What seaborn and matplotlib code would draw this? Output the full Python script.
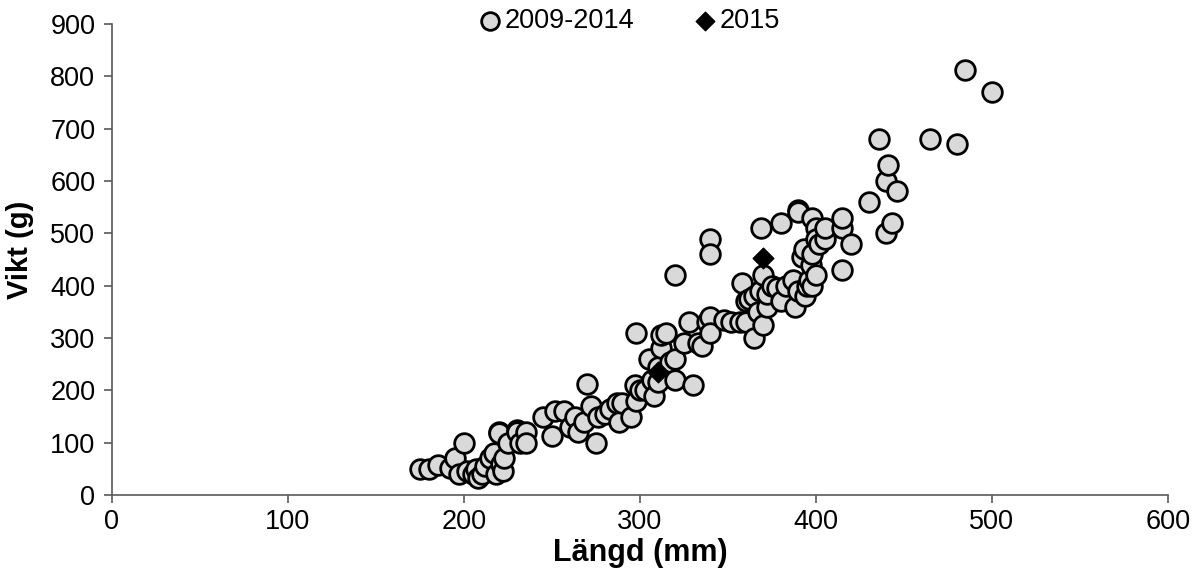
import matplotlib
matplotlib.use("Agg")
import matplotlib.pyplot as plt
import seaborn as sns
import pandas as pd

# Length (mm) and weight (g) of fish caught 2009-2014
length_2009_2014 = [175, 180, 185, 192, 195, 197, 200, 202, 205, 207, 208, 210, 212, 215, 217,
                    218, 220, 220, 221, 222, 223, 225, 230, 230, 232, 235, 235, 245, 250, 252,
                    257, 260, 263, 265, 270, 268, 272, 275, 276, 280, 283, 287, 288, 290, 295,
                    297, 298, 298, 300, 303, 305, 307, 308, 310, 310, 312, 312, 315, 317, 320,
                    320, 320, 325, 328, 330, 333, 335, 338, 340, 340, 340, 340, 348, 352, 357,
                    358, 360, 360, 362, 365, 365, 367, 368, 369, 370, 370, 372, 372, 375, 378,
                    380, 380, 383, 387, 388, 390, 390, 390, 392, 393, 394, 395, 396, 398, 398,
                    397, 398, 400, 400, 400, 402, 405, 405, 415, 415, 415, 420, 430, 436, 440,
                    440, 441, 443, 446, 465, 480, 485, 500]
weight_2009_2014 = [50, 50, 58, 52, 70, 40, 100, 45, 40, 50, 32, 40, 55, 70, 80,
                    40, 120, 118, 60, 45, 70, 100, 125, 120, 100, 120, 100, 150, 113, 160,
                    160, 130, 150, 120, 212, 140, 170, 100, 150, 155, 165, 175, 140, 175, 150,
                    210, 310, 180, 200, 200, 260, 220, 190, 215, 245, 280, 305, 310, 255, 420,
                    260, 220, 290, 330, 210, 290, 285, 330, 490, 460, 340, 310, 335, 330, 330,
                    405, 370, 330, 375, 300, 380, 350, 390, 510, 420, 325, 360, 385, 400, 395,
                    520, 370, 400, 410, 360, 390, 545, 540, 455, 470, 380, 400, 410, 400, 530,
                    440, 460, 510, 490, 420, 480, 490, 510, 510, 530, 430, 480, 560, 680, 500,
                    600, 630, 520, 580, 680, 670, 813, 770]

# Fish caught 2015
length_2015 = [310, 370]
weight_2015 = [235, 452]

df = pd.DataFrame({
    "Längd": length_2009_2014 + length_2015,
    "Vikt": weight_2009_2014 + weight_2015,
    "År": ["2009-2014"] * len(length_2009_2014) + ["2015"] * len(length_2015),
})

sns.set_style("white")
plt.rcParams["font.family"] = ["Liberation Sans", "DejaVu Sans"]
plt.rcParams["text.color"] = "black"
plt.rcParams["axes.labelcolor"] = "black"
plt.rcParams["xtick.color"] = "black"
plt.rcParams["ytick.color"] = "black"

fig = plt.figure(figsize=(12.04, 5.74), dpi=100)
ax = fig.add_axes([0.093, 0.1376, 0.877, 0.8206])

sns.scatterplot(data=df[df["År"] == "2009-2014"], x="Längd", y="Vikt",
                marker="o", s=200, color="#d9d9d9", edgecolor="black",
                linewidth=2.0, label="2009-2014", ax=ax, zorder=3)
sns.scatterplot(data=df[df["År"] == "2015"], x="Längd", y="Vikt",
                marker="D", s=110, color="black", edgecolor="black",
                linewidth=1, label="2015", ax=ax, zorder=4)

ax.set_xlim(0, 600)
ax.set_ylim(0, 900)
ax.set_xticks(range(0, 601, 100))
ax.set_yticks(range(0, 901, 100))
ax.set_xlabel("Längd (mm)", fontsize=22, fontweight="bold", labelpad=2)
ax.set_ylabel("Vikt (g)", fontsize=21, fontweight="bold")
ax.yaxis.set_label_coords(-0.074, 0.52)
ax.tick_params(axis="both", labelsize=19.5, direction="out", length=6, width=1.2,
               color="#595959", labelcolor="black", bottom=True, left=True)
ax.tick_params(axis="x", pad=4)
ax.tick_params(axis="y", pad=6)

for side in ["top", "right"]:
    ax.spines[side].set_visible(False)
for side in ["bottom", "left"]:
    ax.spines[side].set_color("#595959")
    ax.spines[side].set_linewidth(1.2)
    ax.spines[side].set_zorder(2)

leg = ax.legend(loc="upper center", bbox_to_anchor=(0.49, 1.085), ncol=2, frameon=False,
                fontsize=19.5, handlelength=0.8, handletextpad=0.15, columnspacing=2.2,
                markerscale=0.9)

fig.savefig("out.png", dpi=100)
